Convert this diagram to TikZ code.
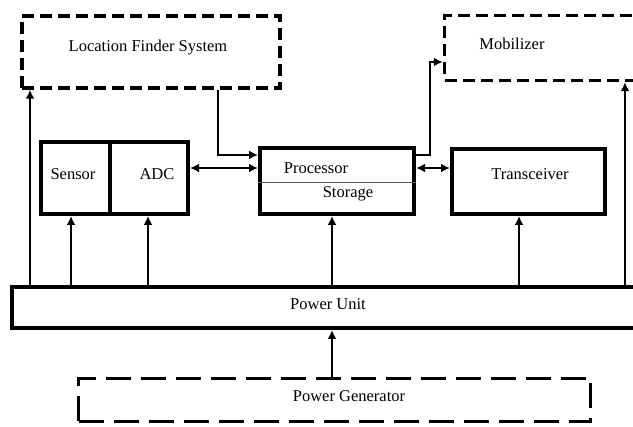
\documentclass[tikz,border=0pt]{standalone}
\usepackage{fontspec}
\setmainfont{Liberation Serif}
\usetikzlibrary{positioning,arrows.meta}

\begin{document}
\begin{tikzpicture}[x=1pt, y=-1pt, font=\fontsize{16.5}{19}\selectfont,
        solidbox/.style={draw, line width=4pt, inner sep=0pt},
        dashbox/.style={draw, line width=3.5pt, dash pattern=on 12pt off 6pt, inner sep=0pt},
        genbox/.style={draw, line width=3pt, dash pattern=on 25pt off 10pt, inner sep=0pt},
        arr/.style={-{Latex[length=9pt,width=9pt]}, line width=2.6pt},
        darr/.style={{Latex[length=9pt,width=9pt]}-{Latex[length=9pt,width=9pt]}, line width=2.6pt}]
        \useasboundingbox (0,0) rectangle (633,427);
        \clip (0,0) rectangle (633,427);
        % dashed outer blocks
        \node[dashbox, minimum width=258pt, minimum height=72pt] (lfs) at (151,52) {};
        \node (lfstext) at (148,48) {Location Finder System};
        \node[dashbox, minimum width=205pt, minimum height=65pt] (mob) at (547,48) {};
        \node (mobtext) at (512,44) {Mobilizer};
        % node blocks
        \node[solidbox, minimum width=69pt, minimum height=72pt] (sensor) at (75.5,178) {};
        \node[solidbox, minimum width=78pt, minimum height=72pt, right=-4pt of sensor] (adc) {};
        \node (sensortext) at (73,174) {Sensor};
        \node (adctext) at (157,174) {ADC};
        \node[solidbox, minimum width=154pt, minimum height=66pt] (proc) at (337,181) {};
        \node (proctext) at (316,168) {Processor};
        \node (stor) at (348,194) {Storage};
        \draw[line width=1pt, gray!70!black] (proc.west |- 0,183) -- (proc.east |- 0,183);
        \node[solidbox, minimum width=153pt, minimum height=65pt] (trans) at (528.5,181.5) {};
        \node (transtext) at (530,174) {Transceiver};
        \node[solidbox, minimum width=638pt, minimum height=41pt] (pu) at (331,307.5) {};
        \node (putext) at (328,304) {Power Unit};
        \node[genbox, minimum width=512pt, minimum height=43pt] (gen) at (334.5,400) {};
        \node (gentext) at (349,396) {Power Generator};
        % power lines
        \foreach \x/\to in {30/lfs,71/sensor,148/adc,332/proc,519/trans,625/mob}{\draw[arr] (\x,0 |- pu.north) -- (\x,0 |- \to.south);}
        \draw[arr] (332,0 |- gen.north) -- (332,0 |- pu.south);
        % data lines
        \draw[arr] (218,0 |- lfs.south) |- (proc.west |- 0,155);
        \draw[darr] (adc.east |- 0,168) -- (proc.west |- 0,168);
        \draw[darr] (proc.east |- 0,168) -- (trans.west |- 0,168);
        \draw[arr] (proc.east |- 0,155) -- (430,155) |- (mob.west |- 0,62);
    \end{tikzpicture}
\end{document}
